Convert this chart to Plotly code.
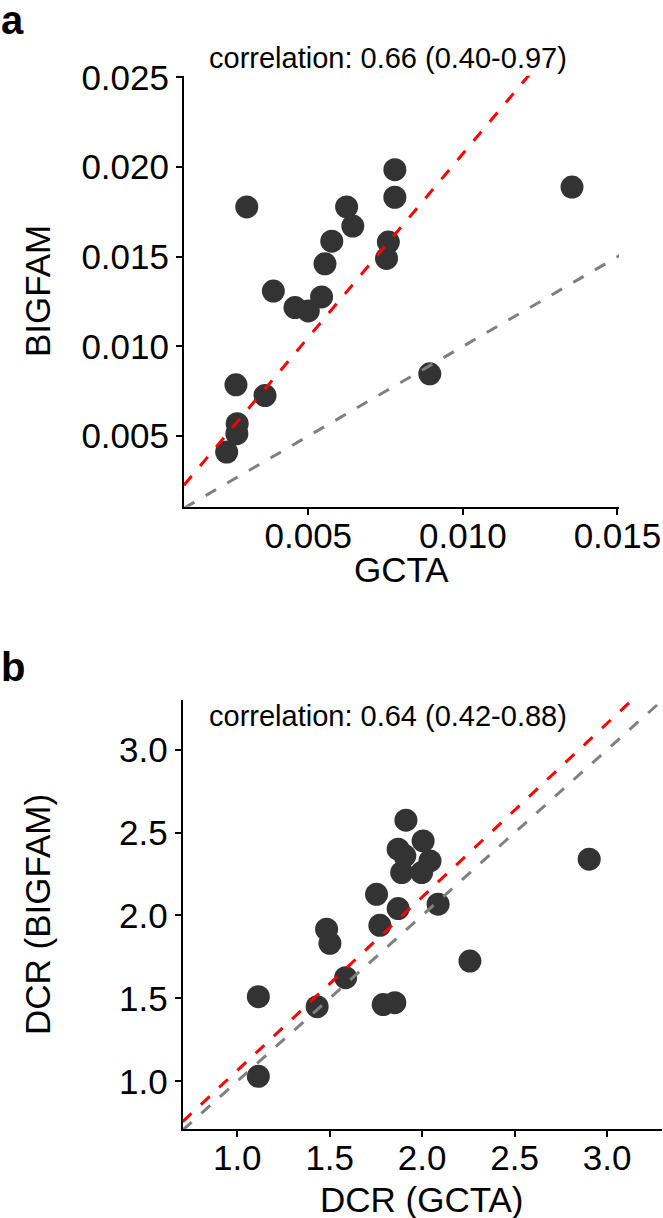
import plotly.graph_objects as go

W, H = 663, 1218

# ---- Panel a: heritability estimates ----
gcta_h2 = [0.00301, 0.00780, 0.00780, 0.00624, 0.00644, 0.00576, 0.00554, 0.00759, 0.00753, 0.00387,
           0.00543, 0.00457, 0.00500, 0.00266, 0.00360, 0.00270, 0.00269, 0.00236, 0.00893, 0.01353]
bigfam_h2 = [0.01778, 0.01986, 0.01832, 0.01778, 0.01671, 0.01587, 0.01461, 0.01582, 0.01491, 0.01309,
             0.01276, 0.01217, 0.01198, 0.00786, 0.00726, 0.00569, 0.00513, 0.00411, 0.00847, 0.01889]
fit_a = (2.05, 0.00025)  # slope, intercept of red line
xrange_a = [0.00098, 0.01505]
yrange_a = [0.00106, 0.02510]
xticks_a = [0.005, 0.010, 0.015]
xticklabels_a = ["0.005", "0.010", "0.015"]
yticks_a = [0.005, 0.010, 0.015, 0.020, 0.025]
yticklabels_a = ["0.005", "0.010", "0.015", "0.020", "0.025"]
label_a = "correlation: 0.66 (0.40-0.97)"

# ---- Panel b: DCR ----
gcta_dcr = [1.114, 1.114, 1.432, 1.483, 1.501, 1.586, 1.789, 1.852, 1.771, 1.753, 1.870,
            2.086, 2.258, 1.889, 1.906, 1.870, 1.912, 2.005, 2.042, 1.997, 2.903]
bigfam_dcr = [1.030, 1.510, 1.450, 1.917, 1.832, 1.625, 1.463, 1.474, 1.941, 2.128, 2.042,
              2.068, 1.725, 2.259, 2.360, 2.400, 2.575, 2.450, 2.329, 2.259, 2.340]
fit_b = (1.047, 0.018)
xrange_b = [0.705, 3.295]
yrange_b = [0.712, 3.300]
ticks_b = [1.0, 1.5, 2.0, 2.5, 3.0]
ticklabels_b = ["1.0", "1.5", "2.0", "2.5", "3.0"]
label_b = "correlation: 0.64 (0.42-0.88)"

FONT = "Liberation Sans, Arial, Helvetica, sans-serif"
PT = "#333333"

fig = go.Figure()

def add_panel(x, y, fit, xr, yr, xa, ya):
    fig.add_trace(go.Scatter(x=x, y=y, mode="markers", xaxis=xa, yaxis=ya,
                             marker=dict(size=23, color=PT, line=dict(width=0)),
                             showlegend=False, hoverinfo="skip"))
    lx = [min(xr[0], yr[0]), max(xr[1], yr[1])]
    fig.add_trace(go.Scatter(x=lx, y=lx, mode="lines", xaxis=xa, yaxis=ya,
                             line=dict(color="#808080", width=3, dash="12px,13px"),
                             showlegend=False, hoverinfo="skip"))
    fig.add_trace(go.Scatter(x=lx, y=[fit[0] * v + fit[1] for v in lx], mode="lines",
                             xaxis=xa, yaxis=ya,
                             line=dict(color="#FF0000", width=3, dash="12px,13px"),
                             showlegend=False, hoverinfo="skip"))

add_panel(gcta_h2, bigfam_h2, fit_a, xrange_a, yrange_a, "x", "y")
add_panel(gcta_dcr, bigfam_dcr, fit_b, xrange_b, yrange_b, "x2", "y2")

axis_common = dict(showgrid=False, zeroline=False, showline=True, linecolor="black",
                   linewidth=2, ticks="outside", ticklen=6, tickwidth=2, tickcolor="black",
                   tickfont=dict(family=FONT, size=35, color="black"), mirror=False,
                   automargin=False)
xaxis_extra = dict(ticklabelstandoff=-9)

def px(v):
    return v / W

def py(v):
    return 1 - v / H

fig.update_layout(
    width=W, height=H, margin=dict(l=0, r=0, t=0, b=0),
    paper_bgcolor="white", plot_bgcolor="white",
    xaxis=dict(domain=[px(184), px(619)], range=xrange_a, tickvals=xticks_a,
               ticktext=xticklabels_a, anchor="y", **axis_common, **xaxis_extra),
    yaxis=dict(domain=[py(506.7), py(75.7)], range=yrange_a, tickvals=yticks_a,
               ticktext=yticklabels_a, anchor="x", **axis_common),
    xaxis2=dict(domain=[px(182.7), px(661.7)], range=xrange_b, tickvals=ticks_b,
                ticktext=ticklabels_b, anchor="y2", **axis_common, **xaxis_extra),
    yaxis2=dict(domain=[py(1129), py(700)], range=yrange_b, tickvals=ticks_b,
                ticktext=ticklabels_b, anchor="x2", **axis_common),
)

def ann(text, x, y, size, bold=False, angle=0, xanchor="center"):
    fig.add_annotation(text=f"<b>{text}</b>" if bold else text, x=px(x), y=py(y),
                       xref="paper", yref="paper", showarrow=False, textangle=angle,
                       xanchor=xanchor, yanchor="middle", borderpad=0,
                       font=dict(family=FONT, size=size, color="black"))

ann("a", 0, 20, 40, bold=True, xanchor="left")
ann("b", 0, 667, 40, bold=True, xanchor="left")
ann(label_a, 388, 58, 29)
ann(label_b, 388, 716, 29)
ann("GCTA", 401, 569, 35)
ann("BIGFAM", 37, 291, 35, angle=-90)
ann("DCR (GCTA)", 422, 1199, 35)
ann("DCR (BIGFAM)", 37, 915, 35, angle=-90)

fig.write_html("out.html")
